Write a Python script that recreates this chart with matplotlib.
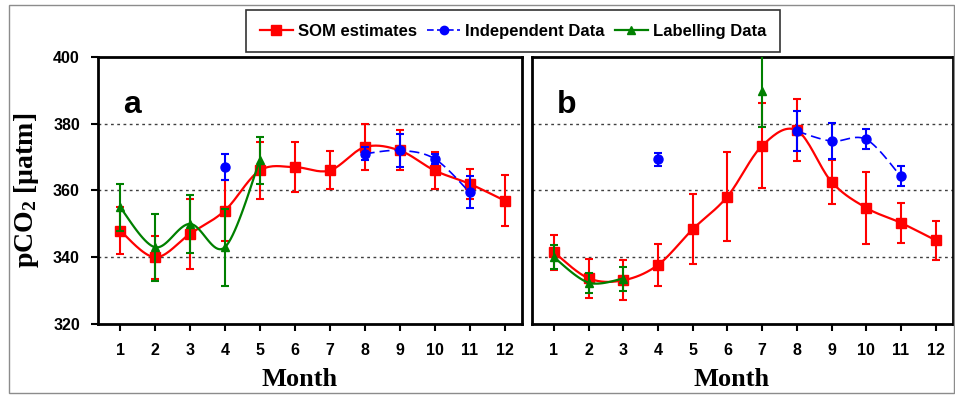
import numpy as np
import matplotlib
matplotlib.use('Agg')
import matplotlib.pyplot as plt
from matplotlib.lines import Line2D
from matplotlib.patches import Rectangle

nan = np.nan
months = np.arange(1, 13)

# panel a
som_a = [348, 340, 347, 354, 366, 367, 366, 373, 372, 366, 362, 357]
som_a_err = [7, 6.5, 10.5, 9, 8.5, 7.5, 5.7, 7, 6, 5.5, 4.5, 7.7]
ind_a = [nan, nan, nan, 367, nan, nan, nan, 371, 372, 369.5, 359.5, nan]
ind_a_err = [0, 0, 0, 4, 0, 0, 0, 2, 5, 1.5, 4.8, 0]
lab_a = [355, 343, 350, 343, 369, nan, nan, nan, nan, nan, nan, nan]
lab_a_err = [7, 10, 8.7, 11.5, 7, 0, 0, 0, 0, 0, 0, 0]

# panel b
som_b = [341.5, 333.7, 333.1, 337.7, 348.4, 358.2, 373.4, 378, 362.6, 354.8, 350.3, 345.1]
som_b_err = [5.2, 5.8, 6, 6.4, 10.5, 13.2, 12.8, 9.3, 6.6, 10.8, 6, 5.8]
ind_b = [nan, nan, nan, 369.3, nan, nan, nan, 377.8, 374.8, 375.3, 364.2, nan]
ind_b_err = [0, 0, 0, 2, 0, 0, 0, 6, 5.5, 3, 3, 0]
lab_b = [340, 332.4, 333.6, nan, nan, nan, 389.7, nan, nan, nan, nan, nan]
lab_b_err = [3.6, 3, 3.6, 0, 0, 0, 10.7, 0, 0, 0, 0, 0]

series_names = ['SOM estimates', 'Independent Data', 'Labelling Data']

plt.rcParams['mathtext.fontset'] = 'custom'
plt.rcParams['mathtext.rm'] = 'Liberation Serif:bold'
plt.rcParams['mathtext.it'] = 'Liberation Serif:bold'
plt.rcParams['mathtext.bf'] = 'Liberation Serif:bold'

SANS = 'Liberation Sans'
SERIF = 'Liberation Serif'


def smooth(x, y, n=20):
    # excel-like smoothed line (cubic bezier, catmull-rom control points)
    x = np.asarray(x, float)
    y = np.asarray(y, float)
    if len(x) < 3:
        return x, y
    p = np.column_stack([x, y])
    p = np.vstack([p[:1], p, p[-1:]])
    t = np.linspace(0, 1, n)[:, None]
    out = []
    for i in range(len(x) - 1):
        p0, p1, p2, p3 = p[i], p[i + 1], p[i + 2], p[i + 3]
        c1 = p1 + (p2 - p0) / 6
        c2 = p2 - (p3 - p1) / 6
        seg = ((1 - t) ** 3) * p1 + 3 * ((1 - t) ** 2) * t * c1 + 3 * (1 - t) * t ** 2 * c2 + t ** 3 * p2
        out.append(seg if i == 0 else seg[1:])
    out = np.vstack(out)
    return out[:, 0], out[:, 1]


def draw_series(ax, vals, errs, color, marker, ms, ls, lw, z):
    vals = np.asarray(vals, float)
    errs = np.asarray(errs, float)
    ok = ~np.isnan(vals)
    # contiguous runs
    runs, cur = [], []
    for i in range(len(vals)):
        if ok[i]:
            cur.append(i)
        elif cur:
            runs.append(cur)
            cur = []
    if cur:
        runs.append(cur)
    for r in runs:
        if len(r) > 1:
            sx, sy = smooth(months[r], vals[r])
            ax.plot(sx, sy, color=color, ls=ls, lw=lw, zorder=z)
    ax.errorbar(months[ok], vals[ok], yerr=errs[ok], fmt=marker, color=color,
                ms=ms, ecolor=color, elinewidth=1.5, capsize=3, capthick=1.5,
                zorder=z + 0.5)


fig = plt.figure(figsize=(9.55, 3.95), dpi=100)
fig.patches.append(Rectangle((9 / 955, 2 / 395), 945 / 955, 388 / 395, transform=fig.transFigure,
                             fill=False, edgecolor='#8c8c8c', lw=1))

ax_a = fig.add_axes([98 / 955, 1 - 324 / 395, 424 / 955, 267 / 395])
ax_b = fig.add_axes([532 / 955, 1 - 324 / 395, 421 / 955, 267 / 395])

panels = [
    (ax_a, 'a', som_a, som_a_err, ind_a, ind_a_err, lab_a, lab_a_err),
    (ax_b, 'b', som_b, som_b_err, ind_b, ind_b_err, lab_b, lab_b_err),
]

for ax, tag, som, som_err, ind, ind_err, lab, lab_err in panels:
    draw_series(ax, som, som_err, '#ff0000', 's', 7, '-', 1.6, 3)
    draw_series(ax, ind, ind_err, '#0000ff', 'o', 6.5, (0, (6, 3)), 1.2, 4)
    draw_series(ax, lab, lab_err, '#008000', '^', 5.5, '-', 1.6, 5)

    ax.set_xlim(0.37, 12.5)
    ax.set_ylim(320, 400)
    ax.set_xticks(months)
    ax.set_yticks([320, 340, 360, 380, 400])
    for g in [340, 360, 380]:
        ax.axhline(g, color='#404040', lw=1, ls=(0, (2, 2.5)), zorder=1)
    for s in ax.spines.values():
        s.set_linewidth(2)
    ax.tick_params(axis='x', direction='out', length=5, width=1.5, pad=9, labelsize=11.5)
    ax.tick_params(axis='y', direction='out', length=5, width=1.5, pad=8, labelsize=11.5)
    for lbl in ax.get_xticklabels() + ax.get_yticklabels():
        lbl.set_fontfamily(SANS)
        lbl.set_fontweight('bold')
    ax.set_xlabel('Month', fontfamily=SERIF, fontweight='bold', fontsize=19)
    ax.xaxis.set_label_coords(0.475, -0.165)
    ax.text(0.06, 0.79, tag, transform=ax.transAxes, fontfamily=SANS, fontweight='bold',
            fontsize=23, va='baseline', ha='left')

ax_b.tick_params(axis='y', left=False, labelleft=False)
ax_a.set_ylabel('pCO$_2$ [µatm]', fontfamily=SERIF, fontweight='bold', fontsize=20)
ax_a.yaxis.set_label_coords(-0.135, 0.5)

handles = [
    Line2D([], [], color='#ff0000', marker='s', ms=7, lw=1.6),
    Line2D([], [], color='#0000ff', marker='o', ms=6, lw=1.2, ls=(0, (4, 2))),
    Line2D([], [], color='#008000', marker='^', ms=5.5, lw=1.6),
]
leg = fig.legend(handles, series_names, loc='upper center', bbox_to_anchor=(513 / 955, 1 - 2 / 395),
                 ncol=3, frameon=True, fancybox=False, edgecolor='black', handlelength=2.0,
                 handletextpad=0.3, columnspacing=0.6, borderpad=0.8,
                 prop={'family': SANS, 'weight': 'bold', 'size': 12})
leg.get_frame().set_linewidth(1.2)

fig.savefig('out.png', dpi=100)
